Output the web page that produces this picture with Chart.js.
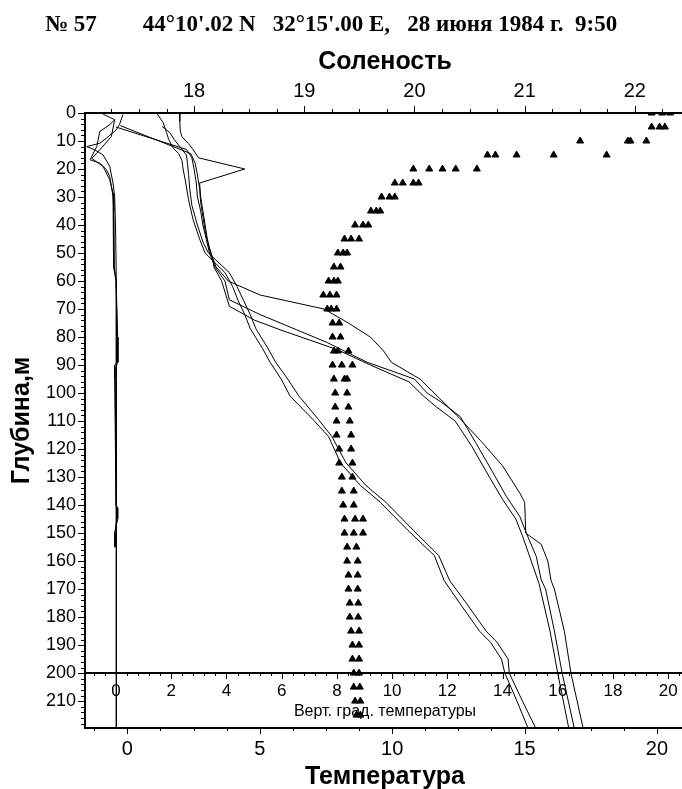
<!DOCTYPE html>
<html lang="ru">
<head>
<meta charset="utf-8">
<title>Станция 57</title>
<script src="https://cdn.jsdelivr.net/npm/chart.js@4.4.1/dist/chart.umd.min.js"></script>
<style>
  html, body { margin: 0; padding: 0; background: #fff; overflow: hidden; }
  #wrap { position: relative; width: 682px; height: 789px; overflow: hidden; }
  #profile { position: absolute; left: 0; top: 0; }
  #station {
    position: absolute; left: 45px; top: 4px;
    font: bold 23px "Liberation Serif", "Times New Roman", serif;
    line-height: 40px; white-space: pre; color: #000;
  }
</style>
</head>
<body>
<div id="wrap">
  <canvas id="profile" width="690" height="789"></canvas>
  <div id="station">№ 57        44°10'.02 N   32°15'.00 E,   28 июня 1984 г.  9:50</div>
</div>
<script>
// Температура (треугольники): глубина строки и значения в ней
const tempDepths = [0, 5, 10, 15, 20, 25, 30, 35, 40, 45, 50, 55, 60, 65, 70, 75, 80, 85, 90, 95,
  100, 105, 110, 115, 120, 125, 130, 135, 140, 145, 150, 155, 160, 165, 170, 175, 180, 185, 190,
  195, 200, 205, 210, 215];
const tempRows = [
  [19.8, 20.2, 20.5], [19.8, 20.1, 20.3], [17.1, 18.9, 19.0, 19.6],
  [13.6, 13.9, 14.7, 16.1, 18.1], [10.8, 11.4, 11.9, 12.4, 13.2], [10.1, 10.4, 10.8, 11.0],
  [9.6, 9.9, 10.1], [9.2, 9.4, 9.55], [8.6, 8.9, 9.1], [8.2, 8.45, 8.75], [7.95, 8.15, 8.3],
  [7.8, 8.05], [7.6, 7.8, 7.95], [7.4, 7.65, 7.9], [7.55, 7.7, 7.9], [7.75, 8.0], [7.75, 8.05],
  [7.8, 7.95, 8.35], [7.75, 8.1, 8.5], [7.8, 8.2, 8.3], [7.85, 8.3], [7.85, 8.35], [7.9, 8.4],
  [7.9, 8.45], [8.0, 8.45], [8.0, 8.5], [8.1, 8.5], [8.1, 8.55], [8.15, 8.55], [8.2, 8.6, 8.9],
  [8.2, 8.55, 8.9], [8.3, 8.65], [8.3, 8.7], [8.35, 8.7], [8.35, 8.7], [8.4, 8.72], [8.4, 8.72],
  [8.45, 8.75], [8.5, 8.75], [8.5, 8.75], [8.55, 8.75], [8.55, 8.78], [8.6, 8.8], [8.65, 8.8]
];

// Соленость: пять профилей
const salDepthA = [0, 3, 6.5, 8.5, 11, 13, 16, 20, 25, 30, 35, 40, 45, 50, 55, 60, 65, 70, 75, 80,
  85, 89, 95, 102, 109, 117, 126, 136, 139, 150, 154, 160, 167, 170, 185, 200, 219.6];
const salA = [17.87, 17.87, 17.875, 17.89, 17.95, 17.99, 18.04, 18.46, 18.05, 18.06, 18.08, 18.1,
  18.12, 18.15, 18.2, 18.31, 18.6, 19.18, 19.4, 19.6, 19.72, 19.79, 20.05, 20.23, 20.41, 20.6,
  20.8, 20.96, 21.0, 21.01, 21.15, 21.21, 21.24, 21.27, 21.36, 21.42, 21.53];

const salDepthB1 = [5, 13, 16, 20, 25, 30, 35, 40, 45, 50, 55, 60, 66.7, 72, 77.4, 82, 89, 95, 100,
  103, 108.4, 118, 128.6, 137, 144, 150, 158.3, 166.7, 170, 185, 200, 219.6];
const salB1 = [17.29, 17.93, 17.98, 18.0, 18.02, 18.03, 18.06, 18.08, 18.11, 18.14, 18.19, 18.28,
  18.32, 18.6, 18.93, 19.21, 19.57, 20.0, 20.115, 20.235, 20.415, 20.56, 20.715, 20.835, 20.955,
  21.015, 21.105, 21.15, 21.19, 21.27, 21.34, 21.45];

const salDepthB2 = [4.5, 14.5, 18, 22, 27, 32, 37, 42, 47, 52, 55, 60, 69, 74, 77.4, 84.5, 90, 96,
  101, 105, 110, 119, 130, 138, 145, 151, 160, 168, 185, 200, 219.6];
const salB2 = [17.33, 17.97, 18.01, 18.03, 18.05, 18.06, 18.08, 18.1, 18.13, 18.17, 18.18, 18.25,
  18.32, 18.55, 18.78, 19.3, 19.6, 19.95, 20.08, 20.2, 20.37, 20.52, 20.68, 20.8, 20.92, 20.98,
  21.06, 21.13, 21.23, 21.3, 21.4];

const salDepthC1 = [0, 3.5, 7, 9.5, 12.5, 14.5, 17, 20, 24, 31, 38, 45, 50, 57, 62, 67, 72, 77, 84,
  89, 95, 101, 109.5, 115.5, 125, 133, 139, 149, 158, 167, 175, 185, 189, 195, 200, 210, 219.6];
const salC1 = [17.66, 17.72, 17.75, 17.77, 17.81, 17.86, 17.89, 17.9, 17.92, 17.95, 17.99, 18.05,
  18.1, 18.28, 18.35, 18.4, 18.46, 18.51, 18.62, 18.69, 18.79, 18.87, 19.08, 19.22, 19.33, 19.51,
  19.69, 19.94, 20.18, 20.27, 20.41, 20.59, 20.69, 20.79, 20.82, 20.93, 21.03];

const salDepthC2 = [4.8, 7, 9.5, 12, 15, 18, 22, 27, 33, 40, 46, 50, 57, 62, 67, 72, 77, 84, 89, 95,
  101, 109.5, 115.5, 125, 133, 139, 149, 158, 167, 175, 185, 189, 195, 200, 210, 219.6];
const salC2 = [17.71, 17.78, 17.82, 17.87, 17.93, 17.94, 17.95, 17.96, 17.98, 18.03, 18.08, 18.13,
  18.32, 18.39, 18.45, 18.51, 18.56, 18.67, 18.74, 18.85, 18.95, 19.13, 19.25, 19.38, 19.56, 19.74,
  19.99, 20.22, 20.32, 20.47, 20.65, 20.75, 20.85, 20.86, 20.98, 21.1];

// Вертикальный градиент температуры: три профиля
const gradDepth1 = [0.5, 4, 6, 9, 10.8, 12, 13.2, 15, 19, 25, 30, 40, 60, 219.6];
const grad1 = [0.25, 0.13, 0.01, -0.35, -0.59, -1.06, -0.76, -0.47, -0.23, -0.11, -0.05, -0.02, 0.01, 0.01];

const gradDepth2 = [0.4, 2.4, 4.2, 6.6, 9.6, 12, 16.7, 17.9, 20.2, 22.6, 26.2, 29.8, 35, 55, 60, 80,
  89, 90, 95, 140, 141, 145, 150, 155];
const grad2 = [-0.47, -0.05, -0.23, -0.59, -0.65, -0.7, -0.94, -0.59, -0.35, -0.23, -0.17, -0.11,
  -0.08, -0.06, 0.0, 0.06, 0.07, -0.05, -0.05, 0.0, 0.06, 0.06, -0.05, -0.05];

const gradDepth3 = [2.4, 8.4, 14.4, 16.2, 19.1, 23.8, 28.6, 35, 55, 60, 80, 89, 92, 140, 143, 150, 155];
const grad3 = [-0.05, -0.17, -0.7, -0.88, -0.47, -0.23, -0.11, -0.1, -0.08, 0.0, 0.04, 0.05, -0.03,
  0.0, 0.05, -0.04, -0.04];

// Деления осей: [ось, шаг больших, шаг малых, длина больших, длина малых, направление]
const tickSpecs = [
  ['y', 10, 2, 7, 4, 'left'],
  ['xs', 1, 0.25, 7, 4, 'up'],
  ['x', 5, 1.25, 6, 3, 'down'],
  ['xg', 2, 0.4, 6, 3, 'down']
];

const narrow = "'Liberation Sans Narrow', 'Arial Narrow', 'Liberation Sans', Arial, sans-serif";
const sans = "'Liberation Sans', Arial, sans-serif";

const profile = (depths, values) => depths.map((d, i) => ({ x: values[i], y: d }));

const tempPoints = [];
tempDepths.forEach((d, i) => tempRows[i].forEach(t => tempPoints.push({ x: t, y: d })));

function line(data, axis) {
  return {
    data, xAxisID: axis, yAxisID: 'y', showLine: true,
    borderColor: '#000', borderWidth: 1, pointRadius: 0, tension: 0, clip: 0
  };
}

const tickMarks = {
  id: 'tickMarks',
  afterDraw(chart) {
    const { ctx, scales, chartArea } = chart;
    ctx.save();
    ctx.strokeStyle = '#000';
    ctx.lineWidth = 1;
    ctx.beginPath();
    tickSpecs.forEach(([id, major, minor, majorLen, minorLen, dir]) => {
      const s = scales[id];
      const lo = Math.min(s.min, s.max), hi = Math.max(s.min, s.max);
      let base;
      if (dir === 'left') base = chartArea.left;
      else if (dir === 'up') base = chartArea.top;
      else if (id === 'x') base = chartArea.bottom;
      else base = Math.round(scales.y.getPixelForValue(200));
      for (let k = Math.ceil(lo / minor - 1e-9); k * minor <= hi + 1e-9; k++) {
        const v = k * minor;
        const isMajor = Math.abs(v / major - Math.round(v / major)) < 1e-6;
        const len = isMajor ? majorLen : minorLen;
        const p = Math.round(s.getPixelForValue(v)) + 0.5;
        if (dir === 'left') { ctx.moveTo(base, p); ctx.lineTo(base - len, p); }
        else if (dir === 'up') { ctx.moveTo(p, base); ctx.lineTo(p, base - len); }
        else { ctx.moveTo(p, base); ctx.lineTo(p, base + len); }
      }
    });
    ctx.stroke();
    ctx.restore();
  }
};

const axisTitle = (text, size, pad) => ({
  display: true, text, color: '#000',
  font: { family: sans, size, weight: 'bold', lineHeight: 1.1 }, padding: pad
});

const hAxis = (extra) => Object.assign({
  type: 'linear',
  grid: { display: false, drawTicks: false },
  border: { display: true, color: '#000', width: 2 }
}, extra);

new Chart(document.getElementById('profile'), {
  type: 'scatter',
  data: {
    datasets: [
      {
        data: tempPoints, xAxisID: 'x', yAxisID: 'y', pointStyle: 'triangle',
        pointRadius: 4, backgroundColor: '#000', borderColor: '#000', borderWidth: 1, clip: 0
      },
      line(profile(salDepthA, salA), 'xs'),
      line(profile(salDepthB1, salB1), 'xs'),
      line(profile(salDepthB2, salB2), 'xs'),
      line(profile(salDepthC1, salC1), 'xs'),
      line(profile(salDepthC2, salC2), 'xs'),
      line(profile(gradDepth1, grad1), 'xg'),
      line(profile(gradDepth2, grad2), 'xg'),
      line(profile(gradDepth3, grad3), 'xg')
    ]
  },
  options: {
    responsive: false,
    animation: false,
    layout: { padding: 0 },
    plugins: { legend: { display: false }, tooltip: { enabled: false } },
    scales: {
      y: hAxis({
        position: 'left', reverse: true, min: 0, max: 219.6,
        ticks: { stepSize: 10, includeBounds: false, autoSkip: false, padding: 9, color: '#000',
          font: { family: narrow, size: 18 } },
        title: axisTitle('Глубина,м', 25, { top: 8, bottom: 0 }),
        afterFit(s) { s.width = 85; }
      }),
      xs: hAxis({
        position: 'top', min: 17.01, max: 22.455,
        ticks: { stepSize: 1, includeBounds: false, autoSkip: false, maxRotation: 0, padding: 10,
          color: '#000', font: { family: narrow, size: 20 } },
        title: axisTitle('Соленость', 25, { top: 48, bottom: 0 }),
        afterFit(s) { s.height = 113; }
      }),
      x: hAxis({
        position: 'bottom', min: -1.6, max: 21.06,
        ticks: { stepSize: 5, includeBounds: false, autoSkip: false, maxRotation: 0, padding: 9,
          color: '#000', font: { family: narrow, size: 20 } },
        title: axisTitle('Температура', 25, { top: 0, bottom: -2 }),
        afterFit(s) { s.height = 61; }
      }),
      xg: hAxis({
        position: { y: 200 }, min: -1.125, max: 20.61,
        ticks: { stepSize: 2, includeBounds: false, autoSkip: false, maxRotation: 0, padding: 8,
          color: '#000', font: { family: narrow, size: 17 } },
        title: {
          display: true, text: 'Верт. град. температуры', color: '#000',
          font: { family: sans, size: 16 }, padding: 0
        },
        afterFit(s) { s.height = 48; }
      })
    }
  },
  plugins: [tickMarks]
});
</script>
</body>
</html>
